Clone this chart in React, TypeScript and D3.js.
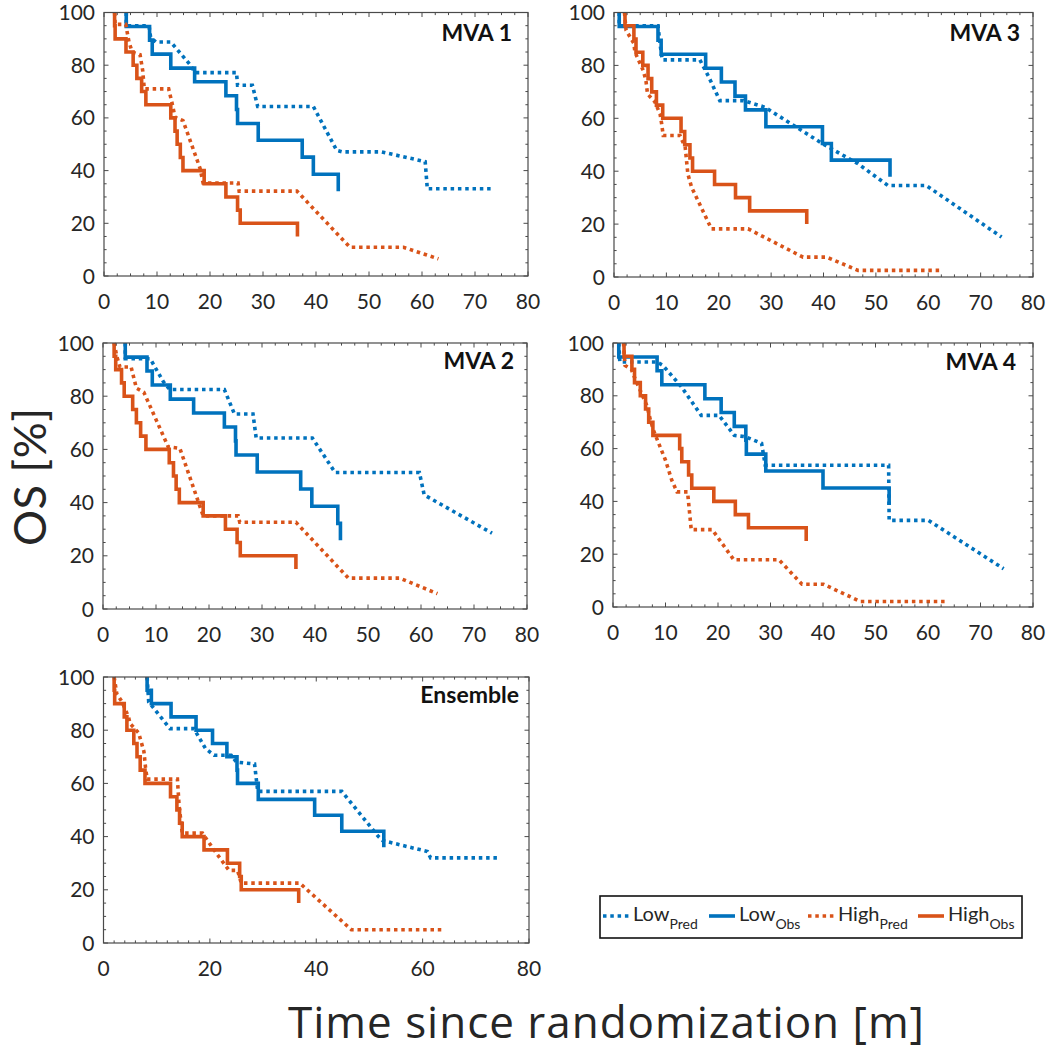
import React from "react";
import * as d3 from "d3";

type Pt = [number, number];

const BLUE = "#0072BD";
const ORANGE = "#D95319";
const FONT = "Lato, 'Open Sans', sans-serif";
const TITLE_FONT = "'Open Sans', Lato, sans-serif";

// ---------- MVA 1 ----------
const mva1LowPred: Pt[] = [[4.2,100],[4.2,95],[8.5,95],[8.8,90.5],[9.8,88.8],[12.6,88.8],[16.2,80.3],[17.2,77.2],[25.0,77.2],[25.2,72.4],[28.0,72.4],[29.0,64.3],[39.5,64.3],[43.9,47.7],[45.0,47.1],[52.4,47.1],[60.6,43.4],[61.0,33.1],[73.3,33.1]];
const mva1LowObs: Pt[] = [[4.2,94.7],[8.6,89.5],[9.1,84.2],[12.6,78.9],[17.1,73.7],[23.0,68.4],[25.0,63.2],[25.2,57.9],[29.1,51.5],[37.4,45.1],[39.5,38.6],[44.2,32.2]];
const mva1HighPred: Pt[] = [[2.0,100],[2.1,95.5],[4.1,95.5],[4.7,89],[5.3,85],[6.8,84],[7.3,78],[7.6,71],[12.2,71],[12.8,66],[13.4,60.3],[14.9,59],[18.1,41],[18.7,35.3],[25.3,35.3],[25.5,32.2],[36.4,32.2],[46.4,10.9],[56.5,10.9],[63.1,6.5]];
const mva1HighObs: Pt[] = [[2.0,95],[2.1,90],[4.15,85],[5.5,80],[6.2,75],[7.1,70],[7.9,65],[12.6,60],[13.4,55],[13.8,50],[14.4,45],[14.9,40],[18.9,35],[23.0,30],[25.2,25],[25.7,20],[36.5,15]];

// ---------- MVA 3 ----------
const mva3LowPred: Pt[] = [[1.0,100],[1.0,95],[8.4,95],[8.8,88],[9.2,82.1],[16.4,82.1],[18.0,76],[20.2,66.7],[24.7,66.7],[28.8,64.2],[39.9,50.3],[46.6,42.8],[52.3,34.6],[59.6,34.6],[74.0,15.1]];
const mva3LowObs: Pt[] = [[1.0,94.7],[8.4,89.5],[9.0,84.2],[17.5,78.9],[20.5,73.7],[23.1,68.4],[25.1,63.2],[29.0,56.8],[39.8,50.5],[41.5,44.2],[52.7,37.9]];
const mva3HighPred: Pt[] = [[2.0,100],[2.3,93.3],[3.8,88.3],[4.0,85],[5.6,78],[6.1,74.2],[6.4,69.2],[7.8,66.2],[8.8,61.6],[9.1,57.9],[9.4,53.5],[12.6,53.5],[13.6,49],[14.1,39],[14.8,34],[18.6,18.2],[25.6,18.2],[36.1,7.5],[40.6,7.5],[46.6,2.5],[62.8,2.5]];
const mva3HighObs: Pt[] = [[2.1,95],[3.8,90],[4.2,85],[5.5,80],[6.5,75],[7.2,70],[8.1,65],[9.3,60],[12.8,55],[13.5,50],[14.5,45],[15.0,40],[19.2,35],[23.2,30],[25.9,25],[36.8,20]];

// ---------- MVA 2 ----------
const mva2LowPred: Pt[] = [[4.2,100],[4.2,94.1],[8.9,94.1],[11.4,85.4],[12.6,82.5],[22.9,82.5],[24.8,73.3],[28.3,73.3],[28.9,64.3],[39.5,64.3],[43.8,51.3],[59.7,51.3],[60.6,42.9],[73.4,28.5]];
const mva2LowObs: Pt[] = [[4.2,94.7],[8.3,89.5],[9.3,84.2],[12.7,78.9],[17.1,73.7],[22.9,68.4],[25.0,63.2],[25.1,57.9],[29.1,51.5],[37.3,45.1],[39.4,38.6],[44.3,32.2],[44.8,25.8]];
const mva2HighPred: Pt[] = [[2.1,100],[2.6,95],[3.2,91],[5.3,91],[6.3,83],[7.7,81.5],[12.3,61],[14.5,60.4],[18.3,38.5],[18.9,35],[25.5,35],[25.8,32.6],[36.4,32.6],[46.3,11.6],[56.0,11.6],[63.1,5.75]];
const mva2HighObs: Pt[] = [[2.1,95],[2.4,90],[3.5,85],[4.0,80],[5.6,75],[6.3,70],[7.1,65],[8.1,60],[12.5,55],[13.3,50],[13.8,45],[14.4,40],[18.9,35],[23.1,30],[25.3,25],[25.9,20],[36.4,15]];

// ---------- MVA 4 ----------
const mva4LowPred: Pt[] = [[1.1,100],[1.3,92.8],[8.4,92.8],[9.5,91.5],[13.0,83.5],[16.8,72.6],[20.2,72.6],[23.1,65],[25.2,64.5],[28.3,62],[29.0,53.7],[52.5,53.7],[52.6,32.8],[60.1,32.8],[74.4,14.5]];
const mva4LowObs: Pt[] = [[1.1,94.7],[8.4,89.5],[9.3,84.2],[17.5,78.9],[20.6,73.7],[23.1,68.4],[25.3,63.2],[25.4,57.9],[29.1,51.5],[40.0,45.1],[52.6,38.6]];
const mva4HighPred: Pt[] = [[2.0,100],[2.3,91.5],[3.5,90],[4.3,86],[5.2,82],[6.5,76],[7.1,71],[7.7,67],[8.7,62],[10.0,55.6],[11.2,48],[12.2,43.6],[14.2,43.6],[14.9,29.3],[18.9,29.3],[23.0,17.9],[31.6,17.9],[36.0,8.6],[40.1,8.6],[47.1,2.1],[63.4,2.1]];
const mva4HighObs: Pt[] = [[2.1,95],[3.6,90],[4.1,85],[5.2,80],[6.2,75],[6.8,70],[7.6,65],[12.7,60],[13.1,55],[14.4,50],[15.0,45],[19.2,40],[23.3,35],[25.8,30],[36.8,25]];

// ---------- Ensemble ----------
const ensLowPred: Pt[] = [[8.2,100],[8.5,90.6],[12.5,80.6],[17.0,80.6],[19.2,73],[20.8,70.6],[24.0,70.6],[25.0,68],[28.4,67.3],[29.0,57],[44.8,57],[51.7,40],[52.5,38.5],[60.9,34.4],[61.5,32],[74.4,32]];
const ensLowObs: Pt[] = [[8.2,95],[9.0,90],[12.7,85],[17.4,80],[20.5,75],[23.2,70],[25.1,65],[25.2,60],[29.1,54],[39.7,48],[44.8,42],[52.7,36]];
const ensHighPred: Pt[] = [[2.0,100],[2.5,93.7],[3.5,90.6],[4.7,85],[5.0,82.5],[6.6,79],[7.6,72],[7.9,66],[8.2,61.6],[13.9,61.6],[14.2,52],[14.8,41.3],[18.6,41.3],[19.9,37.5],[21.5,33],[23.6,27.3],[25.2,27.3],[25.9,22.5],[36.9,22.5],[46.6,5],[63.7,5]];
const ensHighObs: Pt[] = [[2.0,95],[2.1,90],[3.9,85],[4.4,80],[5.7,75],[6.3,70],[6.9,65],[7.8,60],[12.6,55],[13.8,50],[14.3,45],[14.8,40],[18.9,35],[23.3,30],[25.6,25],[25.9,20],[36.7,15]];

const xDomain: [number, number] = [0, 80];
const yDomain: [number, number] = [0, 100];
const yTickValues = [0, 20, 40, 60, 80, 100];

const legendItems = [
  { main: "Low", sub: "Pred", color: BLUE, dotted: true },
  { main: "Low", sub: "Obs", color: BLUE, dotted: false },
  { main: "High", sub: "Pred", color: ORANGE, dotted: true },
  { main: "High", sub: "Obs", color: ORANGE, dotted: false },
];

interface PanelDef {
  name: string;
  lowPred: Pt[]; lowObs: Pt[]; highPred: Pt[]; highObs: Pt[];
  x0: number; x1: number; y0: number; y1: number;
  xStep: number; xMinor: number;
  tdx: number; tdy: number;
}

const panels: PanelDef[] = [
  { name: "MVA 1", lowPred: mva1LowPred, lowObs: mva1LowObs, highPred: mva1HighPred, highObs: mva1HighObs,
    x0: 104, x1: 528, y0: 12.5, y1: 276, xStep: 10, xMinor: 2.5, tdx: 16, tdy: 28 },
  { name: "MVA 3", lowPred: mva3LowPred, lowObs: mva3LowObs, highPred: mva3HighPred, highObs: mva3HighObs,
    x0: 614, x1: 1033, y0: 12.5, y1: 277, xStep: 10, xMinor: 2.5, tdx: 13, tdy: 28.5 },
  { name: "MVA 2", lowPred: mva2LowPred, lowObs: mva2LowObs, highPred: mva2HighPred, highObs: mva2HighObs,
    x0: 103, x1: 527, y0: 343, y1: 609, xStep: 10, xMinor: 2.5, tdx: 13, tdy: 26 },
  { name: "MVA 4", lowPred: mva4LowPred, lowObs: mva4LowObs, highPred: mva4HighPred, highObs: mva4HighObs,
    x0: 613, x1: 1033, y0: 343, y1: 607, xStep: 10, xMinor: 2.5, tdx: 17, tdy: 27 },
  { name: "Ensemble", lowPred: ensLowPred, lowObs: ensLowObs, highPred: ensHighPred, highObs: ensHighObs,
    x0: 103.5, x1: 529, y0: 677, y1: 943, xStep: 20, xMinor: 2, tdx: 10, tdy: 26 },
];

const LW = 3.6;
const DASH = "3.5,3.8";
const AXIS = "#4a4a4a";
const TXT = "#262626";

function Panel({ p }: { p: PanelDef }) {
  const x = d3.scaleLinear().domain(xDomain).range([p.x0, p.x1]);
  const y = d3.scaleLinear().domain(yDomain).range([p.y1, p.y0]);
  const step = d3.line<Pt>().x((d) => x(d[0])).y((d) => y(d[1])).curve(d3.curveStepAfter);
  const lin = d3.line<Pt>().x((d) => x(d[0])).y((d) => y(d[1]));
  const obsPath = (o: Pt[]) => step([[o[0][0], 100] as Pt, ...o]) || "";
  const xMajor = d3.range(xDomain[0], xDomain[1] + 1e-6, p.xStep);
  const xMinor = d3.range(xDomain[0], xDomain[1] + 1e-6, p.xMinor).filter((v) => !xMajor.some((m) => Math.abs(m - v) < 1e-6));
  const yMinor = d3.range(0, 100.0001, 5).filter((v) => v % 20 !== 0);
  const MAJ = 4.5, MIN = 2.6;
  const ticks: JSX.Element[] = [];
  xMajor.forEach((v, i) => {
    ticks.push(<line key={"xb" + i} x1={x(v)} x2={x(v)} y1={p.y1} y2={p.y1 - MAJ} />);
    ticks.push(<line key={"xt" + i} x1={x(v)} x2={x(v)} y1={p.y0} y2={p.y0 + MAJ} />);
  });
  xMinor.forEach((v, i) => {
    ticks.push(<line key={"xbm" + i} x1={x(v)} x2={x(v)} y1={p.y1} y2={p.y1 - MIN} />);
    ticks.push(<line key={"xtm" + i} x1={x(v)} x2={x(v)} y1={p.y0} y2={p.y0 + MIN} />);
  });
  yTickValues.forEach((v, i) => {
    ticks.push(<line key={"yl" + i} x1={p.x0} x2={p.x0 + MAJ} y1={y(v)} y2={y(v)} />);
    ticks.push(<line key={"yr" + i} x1={p.x1} x2={p.x1 - MAJ} y1={y(v)} y2={y(v)} />);
  });
  yMinor.forEach((v, i) => {
    ticks.push(<line key={"ylm" + i} x1={p.x0} x2={p.x0 + MIN} y1={y(v)} y2={y(v)} />);
    ticks.push(<line key={"yrm" + i} x1={p.x1} x2={p.x1 - MIN} y1={y(v)} y2={y(v)} />);
  });
  return (
    <g>
      <path d={lin(p.lowPred) || ""} fill="none" stroke={BLUE} strokeWidth={LW} strokeDasharray={DASH} />
      <path d={obsPath(p.lowObs)} fill="none" stroke={BLUE} strokeWidth={LW} />
      <path d={lin(p.highPred) || ""} fill="none" stroke={ORANGE} strokeWidth={LW} strokeDasharray={DASH} />
      <path d={obsPath(p.highObs)} fill="none" stroke={ORANGE} strokeWidth={LW} />
      <g stroke={AXIS} strokeWidth={1}>{ticks}</g>
      <rect x={p.x0} y={p.y0} width={p.x1 - p.x0} height={p.y1 - p.y0} fill="none" stroke={AXIS} strokeWidth={1.2} />
      <g fontFamily={FONT} fontSize={21} fill={TXT}>
        {xMajor.map((v, i) => (
          <text key={"xl" + i} x={x(v)} y={p.y1 + 33} textAnchor="middle">{v}</text>
        ))}
        {yTickValues.map((v, i) => (
          <text key={"yl" + i} x={p.x0 - 9} y={y(v)} dy="0.36em" textAnchor="end">{v}</text>
        ))}
      </g>
      <text x={p.x1 - p.tdx} y={p.y0 + p.tdy} textAnchor="end" fontFamily={FONT} fontWeight="bold" fontSize={23} fill="#111">{p.name}</text>
    </g>
  );
}

function Legend() {
  const lx = 600, ly = 896, lw = 422, lh = 42;
  const starts = [603, 709, 808, 918];
  return (
    <g>
      <rect x={lx} y={ly} width={lw} height={lh} fill="white" stroke="#111" strokeWidth={1.6} />
      {legendItems.map((it, i) => (
        <g key={i}>
          <line x1={starts[i]} x2={starts[i] + 26} y1={916} y2={916} stroke={it.color} strokeWidth={LW}
            strokeDasharray={it.dotted ? DASH : undefined} />
          <text x={starts[i] + 30} y={921} fontFamily={FONT} fontSize={20} fill={TXT}>
            {it.main}
            <tspan fontSize={14} dy={8}>{it.sub}</tspan>
          </text>
        </g>
      ))}
    </g>
  );
}

export default function App() {
  return (
    <svg width={1050} height={1050} style={{ position: "absolute", left: 0, top: 0, background: "white" }}>
      <rect x={0} y={0} width={1050} height={1050} fill="white" />
      {panels.map((p) => <Panel key={p.name} p={p} />)}
      <Legend />
      <text x={606} y={1038} textAnchor="middle" fontFamily={TITLE_FONT} fontSize={44} fill={TXT}
        textLength={636} lengthAdjust="spacing">Time since randomization [m]</text>
      <text transform="translate(45.5,477) rotate(-90)" textAnchor="middle" fontFamily={FONT} fontSize={45} fill={TXT}
        textLength={138} lengthAdjust="spacing">OS [%]</text>
    </svg>
  );
}
